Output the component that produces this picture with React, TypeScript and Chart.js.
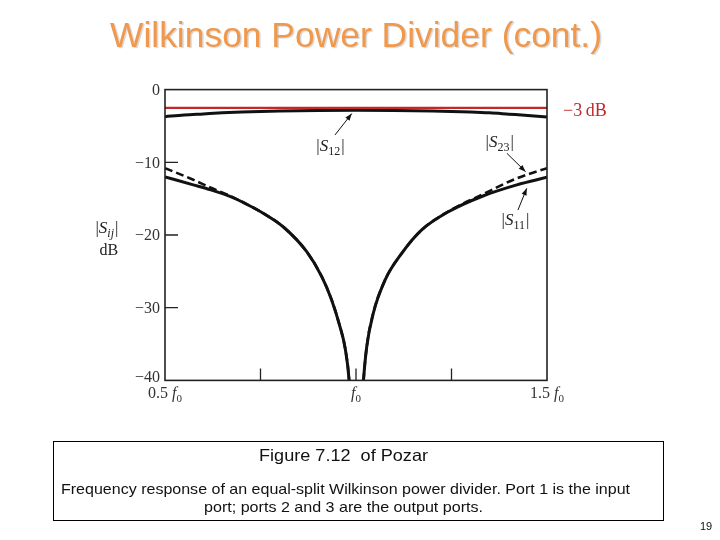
import { useEffect, useRef } from "react";
import { Chart, registerables } from "chart.js";
Chart.register(...registerables);

// ---- data (frequency in units of f0, magnitude in dB) ----
const freq = [0.5, 0.574, 0.62, 0.67, 0.715, 0.757, 0.81, 0.871, 0.91, 0.936, 0.958, 0.971, 0.982, 0.992, 1.0, 1.008, 1.0196, 1.028, 1.045, 1.076, 1.12, 1.172, 1.242, 1.334, 1.421, 1.5];
const s11dB = [-12.0, -13.1, -13.8, -14.7, -15.8, -17.0, -18.9, -22.3, -25.7, -28.9, -32.6, -35.4, -40, -50, null, -50, -40, -35.4, -30.8, -26.2, -22.5, -19.3, -16.8, -14.6, -13.1, -12.06];
const s23dB = [-10.8, -12.4, -13.5, -14.6, -15.8, -17.0, -18.9, -22.3, -25.7, -28.9, -32.6, -35.4, -40, -50, null, -50, -40, -35.4, -30.8, -26.2, -22.5, -19.3, -16.75, -14.35, -12.2, -10.8];
const s12Freq = [0.5, 0.55, 0.6, 0.65, 0.7, 0.75, 0.8, 0.9, 1.0, 1.1, 1.2, 1.25, 1.3, 1.35, 1.4, 1.45, 1.5];
const s12dB = [-3.72, -3.5, -3.35, -3.2, -3.08, -3.0, -2.95, -2.88, -2.85, -2.88, -2.95, -3.0, -3.08, -3.2, -3.38, -3.56, -3.77];
const refFreq = [0.5, 1.5];
const refdB = [-2.5, -2.5];

const yTicks = [0, -10, -20, -30, -40];
const xTicks = [0.75, 1.0, 1.25];
const xLabelValues = [0.5, 1.0, 1.5];
const xLabelPrefix = ["0.5 ", "", "1.5 "];

const pts = (xs: number[], ys: (number | null)[]) => xs.map((x, i) => ({ x, y: ys[i] }));

const SERIF = "'Liberation Serif', 'Times New Roman', serif";
const SANS = "'Liberation Sans', Arial, sans-serif";

type Part = { t: string; font: string; dy?: number; dx?: number };
function drawRich(ctx: CanvasRenderingContext2D, parts: Part[], x: number, y: number, align: "left" | "center" | "right") {
  let total = 0;
  for (const p of parts) {
    ctx.font = p.font;
    total += ctx.measureText(p.t).width + (p.dx || 0);
  }
  let cx = align === "center" ? x - total / 2 : align === "right" ? x - total : x;
  ctx.textAlign = "left";
  for (const p of parts) {
    ctx.font = p.font;
    cx += p.dx || 0;
    ctx.fillText(p.t, cx, y + (p.dy || 0));
    cx += ctx.measureText(p.t).width;
  }
}

function arrow(ctx: CanvasRenderingContext2D, x1: number, y1: number, x2: number, y2: number) {
  ctx.save();
  ctx.strokeStyle = "#111";
  ctx.fillStyle = "#111";
  ctx.lineWidth = 1;
  ctx.beginPath();
  ctx.moveTo(x1, y1);
  ctx.lineTo(x2, y2);
  ctx.stroke();
  const a = Math.atan2(y2 - y1, x2 - x1);
  const L = 7, W = 2.6;
  ctx.beginPath();
  ctx.moveTo(x2, y2);
  ctx.lineTo(x2 - L * Math.cos(a) + W * Math.sin(a), y2 - L * Math.sin(a) - W * Math.cos(a));
  ctx.lineTo(x2 - L * Math.cos(a) - W * Math.sin(a), y2 - L * Math.sin(a) + W * Math.cos(a));
  ctx.closePath();
  ctx.fill();
  ctx.restore();
}

function fitText(ctx: CanvasRenderingContext2D, text: string, font: string, cx: number, y: number, width: number) {
  ctx.save();
  ctx.font = font;
  const w = ctx.measureText(text).width;
  ctx.translate(cx, y);
  ctx.scale(width / w, 1);
  ctx.textAlign = "center";
  ctx.fillText(text, 0, 0);
  ctx.restore();
}

const decor = {
  id: "decor",
  beforeDraw(chart: any) {
    const ctx: CanvasRenderingContext2D = chart.ctx;
    ctx.save();
    ctx.fillStyle = "#fff";
    ctx.fillRect(0, 0, chart.width, chart.height);
    ctx.textBaseline = "alphabetic";

    // title
    ctx.save();
    ctx.shadowColor = "rgba(140,140,140,0.35)";
    ctx.shadowOffsetX = 1.5;
    ctx.shadowOffsetY = 1.5;
    ctx.shadowBlur = 1;
    ctx.fillStyle = "#F0984C";
    fitText(ctx, "Wilkinson Power Divider (cont.)", `35px ${SANS}`, 356, 46.5, 492);
    ctx.restore();

    // caption box
    ctx.strokeStyle = "#000";
    ctx.lineWidth = 1;
    ctx.strokeRect(53.5, 441.5, 610, 79);
    ctx.fillStyle = "#111";
    fitText(ctx, "Figure 7.12  of Pozar", `16.5px ${SANS}`, 343.5, 461, 169);
    fitText(ctx, "Frequency response of an equal-split Wilkinson power divider. Port 1 is the input", `15px ${SANS}`, 345.5, 494, 569);
    fitText(ctx, "port; ports 2 and 3 are the output ports.", `15px ${SANS}`, 343.5, 512, 279);
    ctx.font = `11px ${SANS}`;
    ctx.textAlign = "center";
    ctx.fillText("19", 706, 530);
    ctx.restore();
  },
  afterDraw(chart: any) {
    const ctx: CanvasRenderingContext2D = chart.ctx;
    const { left, right, top, bottom } = chart.chartArea;
    const xs = chart.scales.x;
    const ys = chart.scales.y;
    const X = (v: number) => xs.getPixelForValue(v);
    const Y = (v: number) => ys.getPixelForValue(v);
    ctx.save();
    // frame
    ctx.strokeStyle = "#222";
    ctx.lineWidth = 1.6;
    ctx.strokeRect(left, top, right - left, bottom - top);
    // ticks
    ctx.lineWidth = 1.3;
    ctx.beginPath();
    for (const t of xTicks) {
      ctx.moveTo(X(t), bottom);
      ctx.lineTo(X(t), bottom - 12);
    }
    for (const t of yTicks.slice(1, -1)) {
      ctx.moveTo(left, Y(t));
      ctx.lineTo(left + 13, Y(t));
    }
    ctx.stroke();

    // y tick labels
    ctx.fillStyle = "#333";
    ctx.textBaseline = "middle";
    yTicks.forEach((t, i) => {
      const txt = t === 0 ? "0" : "\u2212" + Math.abs(t);
      drawRich(ctx, [{ t: txt, font: `16px ${SERIF}` }], left - 5, Y(t) + (i === yTicks.length - 1 ? -3 : 1), "right");
    });

    // x labels
    ctx.textBaseline = "alphabetic";
    xLabelValues.forEach((v, i) => {
      drawRich(ctx, [
        { t: xLabelPrefix[i], font: `16px ${SERIF}` },
        { t: "f", font: `italic 16px ${SERIF}` },
        { t: "0", font: `11px ${SERIF}`, dy: 4 },
      ], X(v), bottom + 18, "center");
    });

    // y axis title
    ctx.fillStyle = "#222";
    drawRich(ctx, [
      { t: "|", font: `17px ${SERIF}` },
      { t: "S", font: `italic 17px ${SERIF}` },
      { t: "ij", font: `italic 12px ${SERIF}`, dy: 4 },
      { t: "|", font: `17px ${SERIF}`, dx: 1 },
    ], X(0.348), Y(-19.7), "center");
    drawRich(ctx, [{ t: "dB", font: `16px ${SERIF}` }], X(0.348) + 2, Y(-22.75), "center");

    // curve labels
    const sLabel = (sub: string, fx: number, dy: number) => {
      drawRich(ctx, [
        { t: "|", font: `17px ${SERIF}` },
        { t: "S", font: `italic 17px ${SERIF}` },
        { t: sub, font: `12px ${SERIF}`, dy: 4 },
        { t: "|", font: `17px ${SERIF}`, dx: 1 },
      ], X(fx), Y(dy), "center");
    };
    sLabel("12", 0.933, -8.4);
    sLabel("23", 1.376, -7.9);
    sLabel("11", 1.4175, -18.6);
    arrow(ctx, X(0.945), Y(-6.24), X(0.989), Y(-3.3));
    arrow(ctx, X(1.395), Y(-8.76), X(1.444), Y(-11.29));
    arrow(ctx, X(1.424), Y(-16.56), X(1.447), Y(-13.58));

    // -3 dB label
    ctx.fillStyle = "#C0282D";
    ctx.textBaseline = "middle";
    drawRich(ctx, [{ t: "\u22123\u2009dB", font: `18px ${SERIF}` }], right + 16, Y(-2.94), "left");
    ctx.restore();
  },
};

export default function App() {
  const ref = useRef<HTMLCanvasElement | null>(null);
  useEffect(() => {
    if (!ref.current) return;
    const chart = new Chart(ref.current, {
      type: "line",
      data: {
        datasets: [
          { label: "-3 dB", data: pts(refFreq, refdB), borderColor: "#C0282D", borderWidth: 2.2, pointRadius: 0 },
          { label: "|S11|", data: pts(freq, s11dB), borderColor: "#111", borderWidth: 3, pointRadius: 0, cubicInterpolationMode: "monotone", spanGaps: false },
          { label: "|S23|", data: pts(freq, s23dB), borderColor: "#111", borderWidth: 2.6, borderDash: [8, 4], pointRadius: 0, cubicInterpolationMode: "monotone", spanGaps: false },
          { label: "|S12|", data: pts(s12Freq, s12dB), borderColor: "#111", borderWidth: 3, pointRadius: 0, cubicInterpolationMode: "monotone" },
        ],
      },
      options: {
        animation: false,
        responsive: false,
        layout: { padding: { left: 165, right: 173, top: 89.6, bottom: 159.6 } },
        plugins: { legend: { display: false }, tooltip: { enabled: false }, title: { display: false } },
        scales: {
          x: { type: "linear", min: 0.5, max: 1.5, display: false },
          y: { type: "linear", min: -40, max: 0, display: false },
        },
      } as any,
      plugins: [decor],
    });
    return () => chart.destroy();
  }, []);
  return (
    <div style={{ position: "absolute", left: 0, top: 0, width: 720, height: 540, background: "#fff" }}>
      <canvas ref={ref} width={720} height={540} style={{ width: 720, height: 540, display: "block" }} />
    </div>
  );
}
